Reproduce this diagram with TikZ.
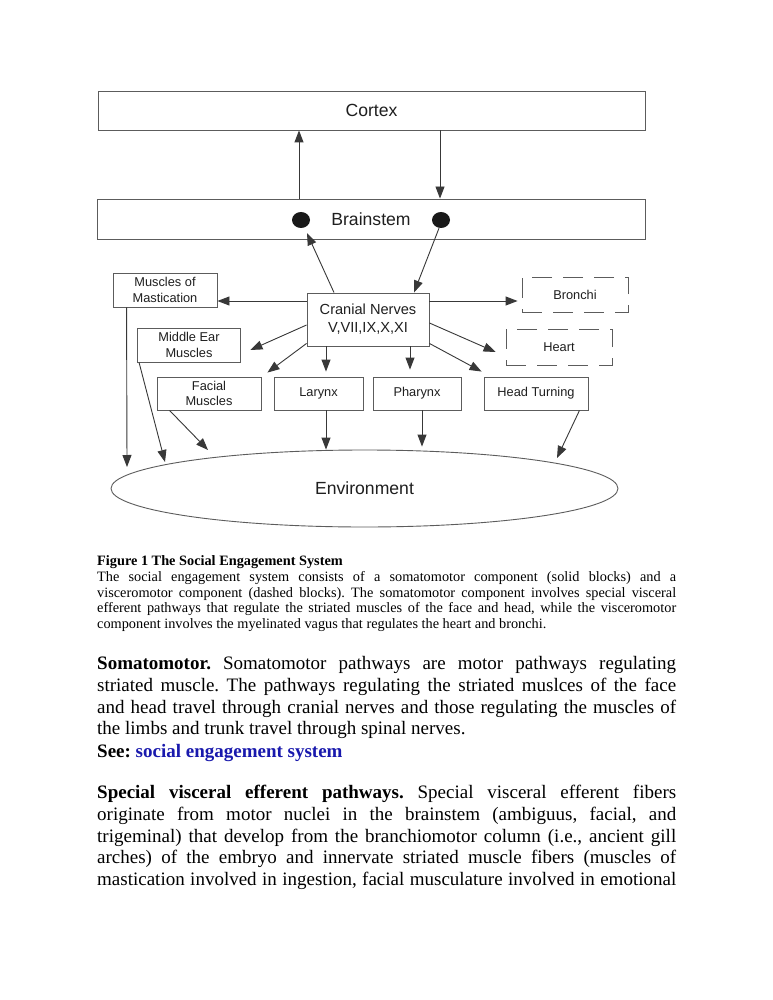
\documentclass[tikz,border=0pt]{standalone}
\usepackage{fontspec}
\setmainfont{Liberation Serif}
\newfontfamily\diagfont{Liberation Sans}
\usetikzlibrary{arrows.meta,shapes.geometric}
\definecolor{lncol}{gray}{0.22}
\definecolor{bxcol}{gray}{0.36}
\definecolor{lkcol}{rgb}{0.1,0.1,0.68}
\begin{document}
\begin{tikzpicture}[x=1pt,y=-1pt,
  blk/.style={draw=bxcol, line width=0.9pt, inner sep=0pt, align=center, text=black!88,
    font=\diagfont\fontsize{12.8}{15.5}\selectfont},
  dblk/.style={blk, dash pattern=on 20pt off 11pt},
  bigblk/.style={blk, font=\diagfont\fontsize{17.6}{20}\selectfont},
  nucdot/.style={fill=black!90, draw=none, ellipse, minimum width=18pt, minimum height=16pt, inner sep=0pt},
  arr/.style={draw=lncol, line width=0.9pt, -{Triangle[length=12pt,width=9pt]}},
  txtline/.style={anchor=base west, inner sep=0pt, text=black},
  captxt/.style={txtline, font=\fontsize{14.3}{16}\selectfont\frenchspacing},
  bodytxt/.style={txtline, font=\fontsize{19}{22}\selectfont\frenchspacing}
  ]
\fill[white] (0,0) rectangle (772,1000);
\useasboundingbox (0,0) rectangle (772,1000);

% boxes
\node[bigblk, minimum width=547pt, minimum height=39pt] (cortex) at (371.5,110.5) {Cortex};
\node[bigblk, minimum width=548pt, minimum height=40pt] (brainstem) at (371,219) {Brainstem};
\node[nucdot] (dotL) at (301,220) {};
\node[nucdot] (dotR) at (441,220) {};

\node[blk, minimum width=104pt, minimum height=34pt] (mast) at (165,290) {Muscles of\\Mastication};
\node[blk, minimum width=122pt, minimum height=53pt, font=\diagfont\fontsize{14.6}{18}\selectfont] (cn) at (368,319.5) {Cranial Nerves\\V,VII,IX,X,XI};
\node[dblk, minimum width=106pt, minimum height=35pt] (bronchi) at (575,294.5) {Bronchi};
\node[dblk, minimum width=106pt, minimum height=36pt] (heart) at (559,347) {Heart};
\node[blk, minimum width=103pt, minimum height=34pt] (midear) at (189,345) {Middle Ear\\Muscles};
\node[blk, minimum width=104pt, minimum height=33pt] (facial) at (209,393.5) {Facial\\Muscles};
\node[blk, minimum width=89pt, minimum height=33pt] (larynx) at (318.5,393.5) {Larynx};
\node[blk, minimum width=88pt, minimum height=33pt] (pharynx) at (417,393.5) {Pharynx};
\node[blk, minimum width=104pt, minimum height=33pt] (headturn) at (536,393.5) {Head Turning};
\node[bigblk, ellipse, minimum width=507pt, minimum height=77pt] (env) at (364.5,488.5) {Environment};

% helper coordinates
\coordinate (ux) at ([xshift=-2pt]dotL.center);
\coordinate (dx) at ([xshift=-1pt]dotR.center);
\coordinate (cnL) at ([yshift=18.5pt]cn.west);
\coordinate (cnR) at ([yshift=18.5pt]cn.east);
\coordinate (lx) at ([xshift=7.5pt]larynx.north);
\coordinate (px1) at ([xshift=-7pt]pharynx.north);
\coordinate (px2) at ([xshift=5pt]pharynx.south);
\coordinate (e1) at (127,467);
\coordinate (e2) at (165,462);
\coordinate (e3) at (208,450);
\coordinate (e6) at (557,458);

% connectors
\draw[arr] (ux |- brainstem.north) -- (ux |- cortex.south);
\draw[arr] (dx |- cortex.south) -- (dx |- brainstem.north);
\draw[arr] ([xshift=-34pt]cn.north) -- ([xshift=6pt,yshift=-5pt]dotL.south);
\draw[arr] ([xshift=-2pt]dotR.south) -- ([xshift=46pt]cn.north);
\draw[arr] (cnL) -- (cnL -| mast.east);
\draw[arr, shorten >=4pt] (cnR) -- (cnR -| bronchi.west);
\draw[arr] ([yshift=-5.5pt]cn.west) -- ([xshift=9.5pt,yshift=-5pt]midear.east);
\draw[arr] ([yshift=3pt]cn.south west) -- ([xshift=6pt,yshift=4pt]facial.north east);
\draw[arr, shorten >=5pt] (lx |- cn.south) -- (lx);
\draw[arr, shorten >=7pt] (px1 |- cn.south) -- (px1);
\draw[arr] ([yshift=-3.5pt]cn.east) -- ([xshift=-10pt,yshift=-5pt]heart.west);
\draw[arr] ([yshift=3pt]cn.south east) -- ([xshift=-2pt,yshift=5pt]headturn.north west);
\draw[arr] ([xshift=14pt]mast.south west) -- (e1);
\draw[arr] ([xshift=2pt]midear.south west) -- (e2);
\draw[arr] ([xshift=13pt]facial.south west) -- (e3);
\draw[arr] (lx |- larynx.south) -- (lx |- env.north);
\draw[arr, shorten >=3pt] (px2) -- (px2 |- env.north);
\draw[arr] ([xshift=-9pt]headturn.south east) -- (e6);

% caption
\node[captxt] (c0) at (97,565) {\textbf{Figure 1 The Social Engagement System}};
\node[captxt] (c1) at (97,581) {\makebox[579pt][s]{The social engagement system consists of a somatomotor component (solid blocks) and a}};
\node[captxt] (c2) at (97,597) {\makebox[579pt][s]{visceromotor component (dashed blocks). The somatomotor component involves special visceral}};
\node[captxt] (c3) at (97,612.5) {\makebox[579pt][s]{efferent pathways that regulate the striated muscles of the face and head, while the visceromotor}};
\node[captxt] (c4) at (97,628) {component involves the myelinated vagus that regulates the heart and bronchi.};

% body
\node[bodytxt] (b1) at (97,669) {\makebox[579pt][s]{\textbf{Somatomotor.} Somatomotor pathways are motor pathways regulating}};
\node[bodytxt] (b2) at (97,691) {\makebox[579pt][s]{striated muscle. The pathways regulating the striated muslces of the face}};
\node[bodytxt] (b3) at (97,713) {\makebox[579pt][s]{and head travel through cranial nerves and those regulating the muscles of}};
\node[bodytxt] (b4) at (97,734.5) {the limbs and trunk travel through spinal nerves.};
\node[bodytxt] (b5) at (97,757) {\textbf{See: \textcolor{lkcol}{social engagement system}}};

\node[bodytxt] (p1) at (97,798) {\makebox[579pt][s]{\textbf{Special visceral efferent pathways.} Special visceral efferent fibers}};
\node[bodytxt] (p2) at (97,820) {\makebox[579pt][s]{originate from motor nuclei in the brainstem (ambiguus, facial, and}};
\node[bodytxt] (p3) at (97,842) {\makebox[579pt][s]{trigeminal) that develop from the branchiomotor column (i.e., ancient gill}};
\node[bodytxt] (p4) at (97,863.5) {\makebox[579pt][s]{arches) of the embryo and innervate striated muscle fibers (muscles of}};
\node[bodytxt] (p5) at (97,885) {\makebox[579pt][s]{mastication involved in ingestion, facial musculature involved in emotional}};
\end{tikzpicture}
\end{document}
